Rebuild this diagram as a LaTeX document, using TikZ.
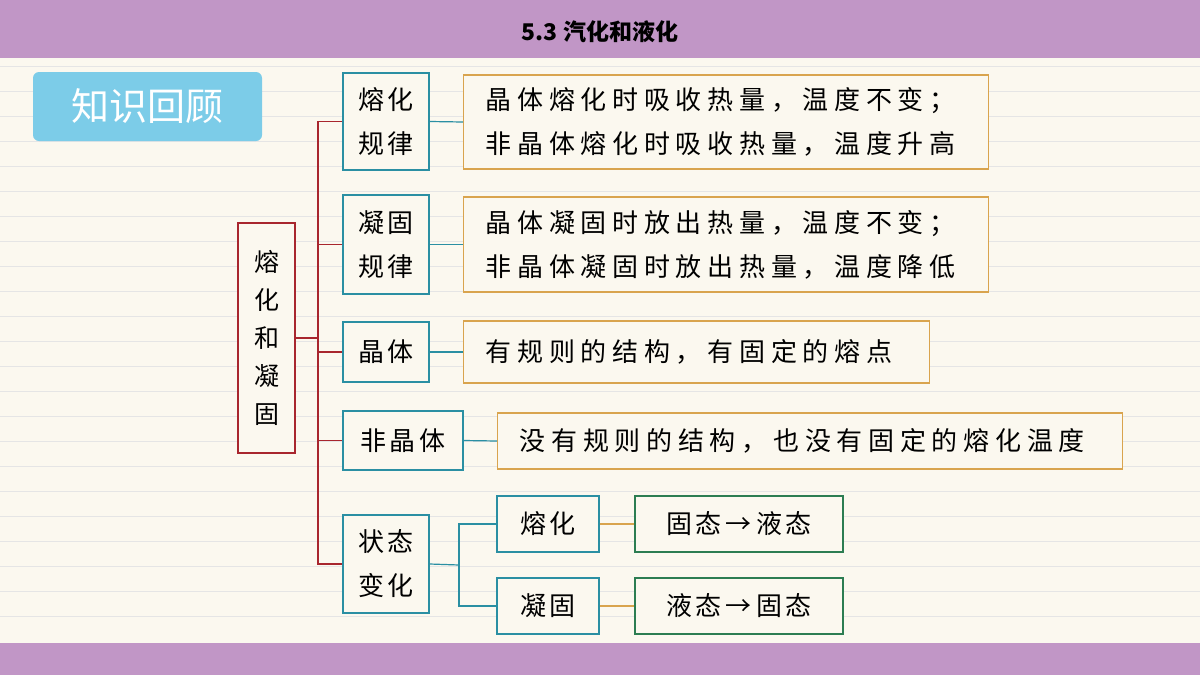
\documentclass[tikz,border=0pt]{standalone}
\usepackage{fontspec}
\newfontfamily\cjk{Noto Sans CJK SC}
\newfontfamily\cjkw[LetterSpace=22]{Noto Sans CJK SC}
\newfontfamily\cjkb[LetterSpace=12]{Noto Sans CJK SC}
\definecolor{bg}{HTML}{FBF8EF}
\definecolor{bar}{HTML}{C196C6}
\definecolor{rootc}{HTML}{A8262E}
\definecolor{teal}{HTML}{2A8FA3}
\definecolor{ora}{HTML}{D9A44E}
\definecolor{grn}{HTML}{2C7D52}
\definecolor{badge}{HTML}{7CCCE8}
\tikzset{
 bx/.style={draw=teal,line width=1.2pt,fill=bg,minimum height=#1,align=center,font=\cjkb\fontsize{26}{44}\selectfont,inner sep=0pt},
 desc/.style={draw=ora,line width=1.2pt,fill=bg,align=left,font=\cjkw\fontsize{26}{44}\selectfont,inner xsep=22pt,inner ysep=0pt,anchor=west,minimum height=#1},
 gbx/.style={draw=grn,line width=1.2pt,fill=bg,minimum width=208pt,minimum height=56pt,font=\cjkb\fontsize{26}{30}\selectfont},
 tl/.style={teal,line width=1.2pt},
 rl/.style={rootc,line width=1.4pt}
}
\begin{document}
\begin{tikzpicture}[x=1pt,y=-1pt]
\fill[bg] (0,0) rectangle (1200,675);
\useasboundingbox (0,0) rectangle (1200,675);
\foreach \y in {66,91,...,640} \draw[black!10] (0,\y) -- (1200,\y);
\fill[bar] (0,0) rectangle (1200,58);
\fill[bar] (0,643) rectangle (1200,675);
\node[font=\cjk\bfseries\fontsize{23}{26}\selectfont] (title) at (600,32) {5.3 汽化和液化};
\node[fill=badge,rounded corners=6pt,minimum width=229pt,minimum height=69pt,text=white,font=\cjk\fontsize{38}{40}\selectfont] (badge) at (147.5,106.5) {知识回顾};
\node[draw=rootc,line width=1.2pt,fill=bg,minimum width=57pt,minimum height=230pt,align=center,font=\cjk\fontsize{25}{38}\selectfont] (root) at (266.5,338) {熔\\化\\和\\凝\\固};
\node[bx=97pt,minimum width=86pt] (b1) at (386,121.5) {熔化\\规律};
\node[bx=99pt,minimum width=86pt] (b2) at (386,244.5) {凝固\\规律};
\node[bx=60pt,minimum width=86pt] (b3) at (386,352) {晶体};
\node[bx=59pt,minimum width=120pt] (b4) at (403,440.5) {非晶体};
\node[bx=98pt,minimum width=86pt] (b5) at (386,564) {状态\\变化};
\node[desc=94pt,text width=481pt] (d1) at (463,122) {晶体熔化时吸收热量，温度不变；\\非晶体熔化时吸收热量，温度升高};
\node[desc=95pt,text width=481pt] (d2) at (463,244.5) {晶体凝固时放出热量，温度不变；\\非晶体凝固时放出热量，温度降低};
\node[desc=62pt,text width=422pt] (d3) at (463,352) {有规则的结构，有固定的熔点};
\node[desc=56pt,text width=581pt] (d4) at (497,441) {没有规则的结构，也没有固定的熔化温度};
\node[bx=56pt,minimum width=102pt] (s1) at (548,524) {熔化};
\node[bx=56pt,minimum width=102pt] (s2) at (548,606) {凝固};
\node[gbx] (g1) at (739,524) {固态\,→\,液态};
\node[gbx] (g2) at (739,606) {液态\,→\,固态};
\coordinate (sp) at (318,338);
\draw[rl] (root.east) -- (sp);
\draw[rl] (b1.west) -| (sp) |- (b5.west);
\draw[rl] (b2.west-|sp) -- (b2.west) (b3.west-|sp) -- (b3.west) (b4.west-|sp) -- (b4.west);
\draw[tl] (b1.east) -- (d1.west);
\draw[tl] (b2.east) -- (d2.west);
\draw[tl] (b3.east) -- (d3.west);
\draw[tl] (b4.east) -- (d4.west);
\coordinate (sp2) at (459,565);
\draw[tl] (b5.east) -- (sp2);
\draw[tl] (s1.west) -| (sp2) |- (s2.west);
\draw[ora,line width=1.2pt] (s1.east) -- (g1.west) (s2.east) -- (g2.west);
\end{tikzpicture}
\end{document}
